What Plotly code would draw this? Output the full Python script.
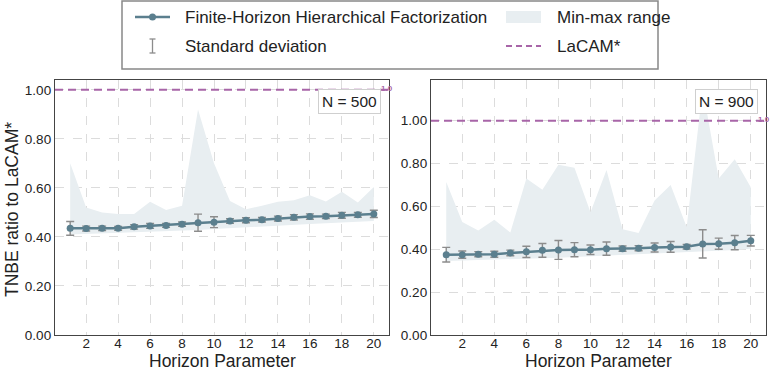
import plotly.graph_objects as go
from plotly.subplots import make_subplots

# Horizon parameter values
horizon = list(range(1, 21))

# N = 500
n500_mean = [0.435, 0.434, 0.435, 0.435, 0.441, 0.445, 0.447, 0.452, 0.458, 0.460,
             0.465, 0.468, 0.470, 0.475, 0.480, 0.483, 0.484, 0.488, 0.490, 0.494]
n500_std = [0.028, 0.010, 0.009, 0.008, 0.009, 0.010, 0.008, 0.009, 0.035, 0.022,
            0.009, 0.010, 0.009, 0.010, 0.011, 0.011, 0.009, 0.012, 0.010, 0.015]
n500_min = [0.410, 0.412, 0.414, 0.415, 0.418, 0.421, 0.423, 0.426, 0.428, 0.432,
            0.436, 0.440, 0.443, 0.446, 0.450, 0.453, 0.456, 0.459, 0.461, 0.465]
n500_max = [0.700, 0.520, 0.500, 0.493, 0.493, 0.543, 0.510, 0.527, 0.920, 0.700,
            0.547, 0.513, 0.527, 0.543, 0.550, 0.570, 0.544, 0.584, 0.540, 0.604]

# N = 900
n900_mean = [0.375, 0.375, 0.377, 0.377, 0.383, 0.388, 0.395, 0.397, 0.398, 0.398,
             0.403, 0.403, 0.405, 0.408, 0.411, 0.412, 0.425, 0.426, 0.431, 0.440]
n900_std = [0.034, 0.017, 0.012, 0.014, 0.013, 0.026, 0.032, 0.044, 0.033, 0.022,
            0.031, 0.012, 0.012, 0.021, 0.025, 0.011, 0.066, 0.026, 0.033, 0.025]
n900_min = [0.345, 0.347, 0.349, 0.350, 0.352, 0.355, 0.358, 0.361, 0.364, 0.367,
            0.370, 0.373, 0.376, 0.379, 0.382, 0.385, 0.389, 0.393, 0.397, 0.402]
n900_max = [0.714, 0.527, 0.488, 0.538, 0.478, 0.730, 0.678, 0.795, 0.780, 0.573,
            0.770, 0.493, 0.476, 0.628, 0.700, 0.504, 1.150, 0.730, 0.820, 0.690]

lacam_ratio = 1.0
panel_labels = ["N = 500", "N = 900"]
y_tops = [1.04, 1.19]
x_ticks = list(range(2, 21, 2))
y_ticks = [0.0, 0.2, 0.4, 0.6, 0.8, 1.0]

LINE_COLOR = "#5b7f8e"
ERR_COLOR = "#8c8c8c"
FILL_COLOR = "#e8eef1"
LACAM_COLOR = "#a865a8"
FONT = "Liberation Sans, Arial, sans-serif"

W, H = 778, 368
ML, MR, MT, MB = 55, 12, 80, 33


def px_x(px):
    return (px - ML) / (W - ML - MR)


def px_y(py):
    return (H - MB - py) / (H - MT - MB)


fig = make_subplots(rows=1, cols=2)

panels = [
    (n500_mean, n500_std, n500_min, n500_max),
    (n900_mean, n900_std, n900_min, n900_max),
]

for i, (mean, std, lo, hi) in enumerate(panels):
    col = i + 1
    fig.add_trace(go.Scatter(x=horizon, y=lo, mode="lines", line=dict(width=0),
                             showlegend=False, hoverinfo="skip"), row=1, col=col)
    fig.add_trace(go.Scatter(x=horizon, y=hi, mode="lines", line=dict(width=0),
                             fill="tonexty", fillcolor=FILL_COLOR,
                             showlegend=False, hoverinfo="skip"), row=1, col=col)
    fig.add_hline(y=lacam_ratio, line=dict(color=LACAM_COLOR, width=2, dash="8px,5px"),
                  row=1, col=col)
    fig.add_trace(go.Scatter(
        x=horizon, y=mean, mode="lines+markers",
        line=dict(color=LINE_COLOR, width=2.5),
        marker=dict(color=LINE_COLOR, size=7),
        error_y=dict(type="data", array=std, color=ERR_COLOR, thickness=1.4, width=4),
        showlegend=False,
    ), row=1, col=col)

    xa = "x" if col == 1 else "x2"
    ya = "y" if col == 1 else "y2"
    fig.add_annotation(xref=f"{xa} domain", yref=ya,
                       x=1.0, y=lacam_ratio, text="<b>1.0</b>", showarrow=False,
                       xanchor="left", xshift=-10, yshift=1,
                       font=dict(size=8, color=LACAM_COLOR, family=FONT))
    fig.add_annotation(xref=f"{xa} domain", yref=f"{ya} domain",
                       x=0.975, y=0.965, text=panel_labels[i], showarrow=False,
                       xanchor="right", yanchor="top",
                       bgcolor="white", bordercolor="#cfcfcf", borderwidth=1, borderpad=3,
                       font=dict(size=15.5, color="#222", family=FONT))
    # x-axis title placed below tick labels
    fig.add_annotation(xref=f"{xa} domain", yref="paper", x=0.5, y=px_y(361),
                       text="Horizon Parameter", showarrow=False,
                       xanchor="center", yanchor="middle", borderpad=0,
                       font=dict(size=17.5, color="#222", family=FONT))

axis_common = dict(showline=True, mirror=True, linecolor="#444", linewidth=1.3,
                   showgrid=True, gridcolor="#dcdcdc", griddash="dash", gridwidth=1,
                   zeroline=False, ticks="", automargin=False,
                   tickfont=dict(size=13.5, color="#222", family=FONT))

for col in (1, 2):
    fig.update_xaxes(range=[0.05, 20.95], tickvals=x_ticks, ticklabelstandoff=-4,
                     **axis_common, row=1, col=col)
    fig.update_yaxes(range=[0, y_tops[col - 1]], tickvals=y_ticks, tickformat=".2f",
                     **axis_common, row=1, col=col)

# y-axis title for the left panel
fig.add_annotation(xref="paper", yref="paper", x=px_x(12), y=px_y(210),
                   text="TNBE ratio to LaCAM*", textangle=-90, showarrow=False,
                   xanchor="center", yanchor="middle",
                   font=dict(size=17.5, color="#222", family=FONT))

fig.update_layout(
    xaxis=dict(domain=[0, px_x(389)]),
    xaxis2=dict(domain=[px_x(431), 1]),
)

# Legend drawn as a framed box above both panels
row1, row2 = 17, 46
shapes = [
    dict(type="rect", xref="paper", yref="paper", x0=px_x(122), x1=px_x(658),
         y0=px_y(69), y1=px_y(1), line=dict(color="#888", width=1.5), fillcolor="white"),
    dict(type="line", xref="paper", yref="paper", x0=px_x(135), x1=px_x(170),
         y0=px_y(row1), y1=px_y(row1), line=dict(color=LINE_COLOR, width=2.5)),
    dict(type="circle", xref="paper", yref="paper", x0=px_x(149), x1=px_x(156),
         y0=px_y(row1 + 3.5), y1=px_y(row1 - 3.5), line=dict(width=0), fillcolor=LINE_COLOR),
    dict(type="line", xref="paper", yref="paper", x0=px_x(152.5), x1=px_x(152.5),
         y0=px_y(row2 + 7), y1=px_y(row2 - 7), line=dict(color=ERR_COLOR, width=1.3)),
    dict(type="line", xref="paper", yref="paper", x0=px_x(149.5), x1=px_x(155.5),
         y0=px_y(row2 + 7), y1=px_y(row2 + 7), line=dict(color=ERR_COLOR, width=1.3)),
    dict(type="line", xref="paper", yref="paper", x0=px_x(149.5), x1=px_x(155.5),
         y0=px_y(row2 - 7), y1=px_y(row2 - 7), line=dict(color=ERR_COLOR, width=1.3)),
    dict(type="rect", xref="paper", yref="paper", x0=px_x(506), x1=px_x(541),
         y0=px_y(row1 + 6), y1=px_y(row1 - 6), line=dict(width=0), fillcolor=FILL_COLOR),
    dict(type="line", xref="paper", yref="paper", x0=px_x(506), x1=px_x(541),
         y0=px_y(row2), y1=px_y(row2), line=dict(color=LACAM_COLOR, width=2, dash="6px,4px")),
]
for s in shapes:
    fig.add_shape(**s)

legend_texts = [
    ("Finite-Horizon Hierarchical Factorization", 183, row1),
    ("Standard deviation", 183, row2),
    ("Min-max range", 555, row1),
    ("LaCAM*", 555, row2),
]
for txt, lx, ly in legend_texts:
    fig.add_annotation(xref="paper", yref="paper", x=px_x(lx), y=px_y(ly), text=txt,
                       showarrow=False, xanchor="left", yanchor="middle",
                       font=dict(size=17, color="#222", family=FONT))

fig.update_layout(
    width=W, height=H,
    margin=dict(l=ML, r=MR, t=MT, b=MB, autoexpand=False),
    plot_bgcolor="white", paper_bgcolor="white",
    font=dict(family=FONT, color="#222"),
    showlegend=False,
)

# drop the default page margin so the figure sits at the window's top-left corner
fig.write_html("out.html", config={"displayModeBar": False},
               post_script="document.body.style.margin='0';")
